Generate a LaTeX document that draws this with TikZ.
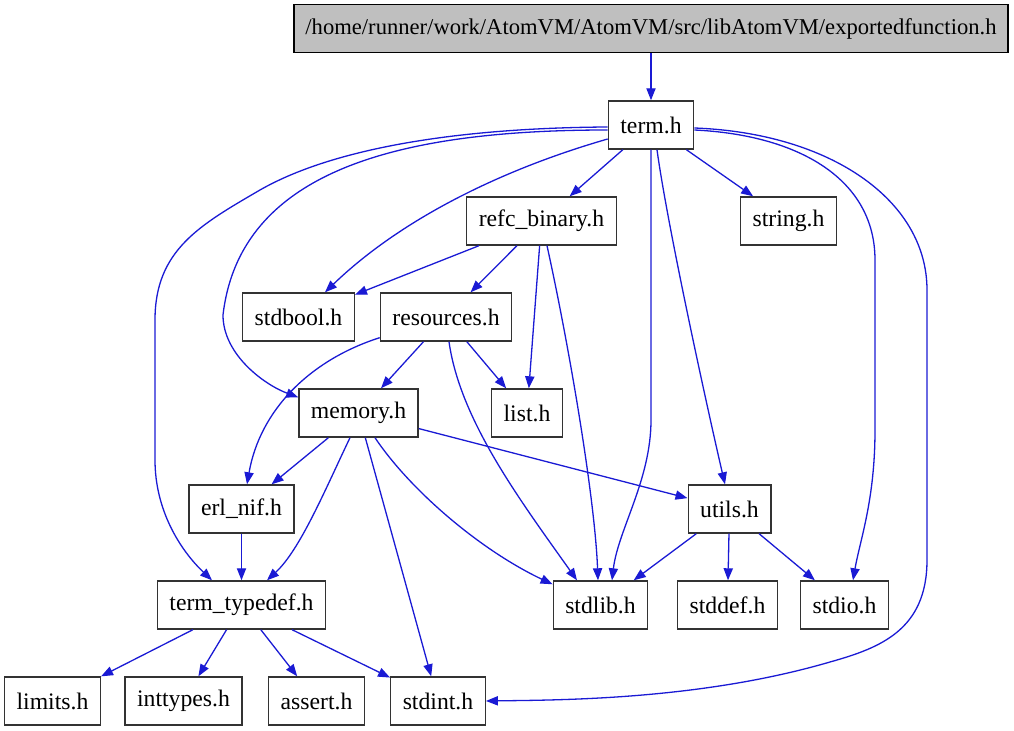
\documentclass[tikz,border=0pt]{standalone}
\usepackage{fontspec}
\setmainfont{Liberation Serif}
\usepackage{xcolor}
\usepackage{tikz}
\usetikzlibrary{
  positioning,
  arrows.meta
}
\definecolor{edgeblue}{RGB}{26,26,212}
\definecolor{topgray}{RGB}{191,191,191}

\begin{document}
\begin{tikzpicture}[
    x=0.5pt, y=-0.5pt,
    every node/.style={font=\fontsize{11.85}{14}\selectfont},
    file/.style={draw=black!80, line width=0.7pt, fill=white,
                 minimum height=24pt, inner xsep=6pt, inner ysep=0pt},
    dep/.style={draw=edgeblue, line width=0.65pt,
                -{Triangle[length=6pt,width=4.6pt]}}
]
\useasboundingbox (0,0) rectangle (1014,731);

% ========== 文件节点 ==========
\node[file, fill=topgray, draw=black, minimum width=357pt, inner xsep=4pt,
      font=\fontsize{11.3}{14}\selectfont] (top) at (651,28.5)
    {/home/runner/work/AtomVM/AtomVM/src/libAtomVM/exportedfunction.h};
\node[file] (term)      at (651,125)   {term.h};
\node[file] (refc)      at (541.5,221) {refc\_binary.h};
\node[file] (strng)     at (788.5,221) {string.h};
\node[file] (stdbool)   at (298.5,317) {stdbool.h};
\node[file] (resources) at (446,317)   {resources.h};
\node[file] (memory)    at (358.5,413) {memory.h};
\node[file] (list)      at (527,413)   {list.h};
\node[file] (erlnif)    at (241.5,509) {erl\_nif.h};
\node[file] (utils)     at (729.5,509) {utils.h};
\node[file] (typedef)   at (241.5,605) {term\_typedef.h};
\node[file] (stdlib)    at (600.5,605) {stdlib.h};
\node[file] (stddef)    at (727.5,605) {stddef.h};
\node[file] (stdio)     at (844.5,605) {stdio.h};
\node[file] (limits)    at (52.5,701)  {limits.h};
\node[file] (inttypes)  at (183.5,701) {inttypes.h};
\node[file] (assert)    at (316.5,701) {assert.h};
\node[file] (stdint)    at (438,701)   {stdint.h};

% ========== 直线依赖 ==========
\draw[dep] (top) -- (term);
\draw[dep] (term) -- (refc);
\draw[dep] (term) -- (strng);
\draw[dep] (refc) -- (stdbool);
\draw[dep] (refc) -- (resources);
\draw[dep] (refc) -- (list);
\draw[dep] (resources) -- (memory);
\draw[dep] (resources) -- (list);
\draw[dep] (memory) -- (erlnif);
\draw[dep] (memory) -- (stdint);
\draw[dep] (memory) -- (utils);
\draw[dep] (erlnif) -- (typedef);
\draw[dep] (utils) -- (stdlib);
\draw[dep] (utils) -- (stddef);
\draw[dep] (utils) -- (stdio);
\foreach \leaf in {limits,inttypes,assert,stdint} {
    \draw[dep] (typedef) -- (\leaf);
}

% ========== term.h 的弯曲依赖 ==========
\draw[dep] ([yshift=-1pt]term.west) .. controls (450,128) and (330,150) .. (260,190)
    .. controls (200,225) and (155,250) .. (155,320) -- (155,460)
    .. controls (155,510) and (180,550) .. ([xshift=-14.75pt]typedef.north);
\draw[dep] ([yshift=-2.5pt]term.west) .. controls (400,130) and (240,170) .. (223,315)
    .. controls (223,355) and (265,385) .. ([yshift=-4.5pt]memory.north west);
\draw[dep] ([yshift=-7pt]term.west) .. controls (500,170) and (400,220)
    .. ([xshift=13.25pt]stdbool.north);
\draw[dep] (term.south) -- (651,420)
    .. controls (651,480) and (618,530) .. ([xshift=5.75pt]stdlib.north);
\draw[dep] ([xshift=3pt]term.south) .. controls (668,230) and (710,420)
    .. ([xshift=-2.25pt]utils.north);
\draw[dep] ([yshift=-2.5pt]term.east) .. controls (800,135) and (875,180) .. (875,260)
    -- (875,430) .. controls (875,500) and (860,540) .. ([xshift=4.25pt]stdio.north);
\draw[dep] ([yshift=-1.5pt]term.east) .. controls (830,133) and (927,200) .. (927,290)
    -- (927,560) .. controls (927,630) and (880,648) .. (830,662)
    .. controls (700,700) and (560,700) .. (stdint.east);

% ========== 其余弯曲依赖 ==========
\draw[dep] ([xshift=2.75pt]refc.south) .. controls (570,350) and (595,500)
    .. ([xshift=-1.25pt]stdlib.north);
\draw[dep] ([yshift=2pt]resources.south west) .. controls (310,360) and (260,410)
    .. ([xshift=2.75pt]erlnif.north);
\draw[dep] ([xshift=1.5pt]resources.south) .. controls (460,420) and (520,500)
    .. ([xshift=-11.75pt]stdlib.north);
\draw[dep] ([xshift=-4.25pt]memory.south) .. controls (325,490) and (300,550)
    .. ([xshift=12.75pt]typedef.north);
\draw[dep] ([xshift=8.25pt]memory.south) .. controls (410,490) and (480,550)
    .. ([yshift=-2pt]stdlib.north west);

\end{tikzpicture}
\end{document}
